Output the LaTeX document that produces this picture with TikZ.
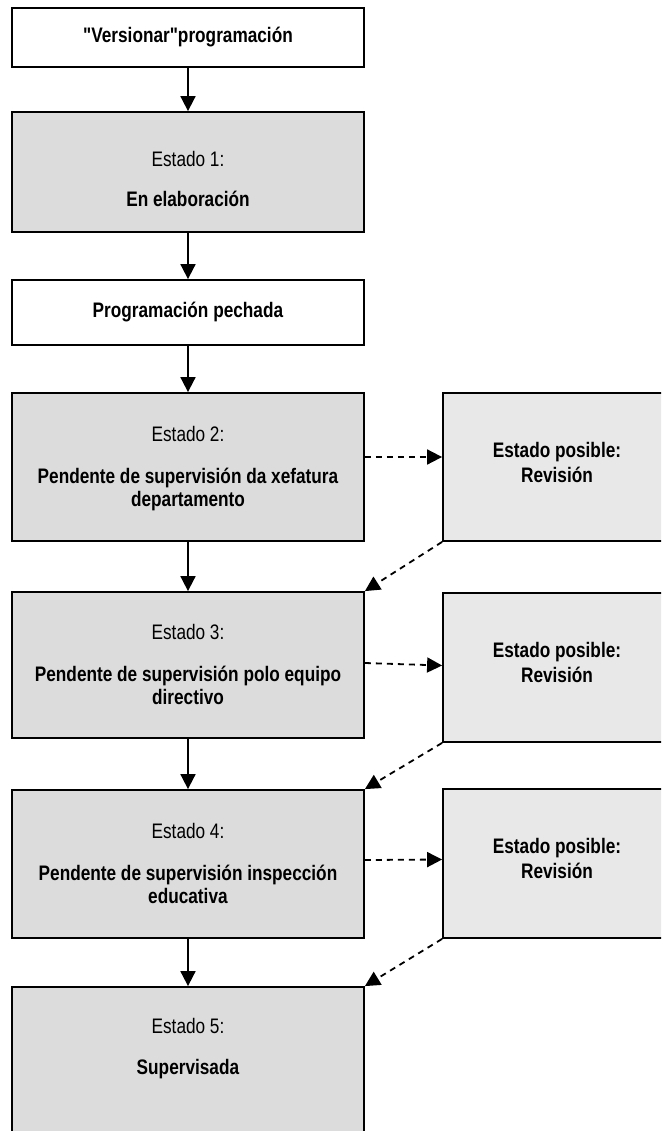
\documentclass[tikz,border=0pt]{standalone}
\usepackage{fontspec}
\setmainfont[FakeStretch=0.82, Ligatures=TeXOff]{Liberation Sans}
\usetikzlibrary{positioning, arrows.meta}

\definecolor{grisestado}{RGB}{220,220,220}
\definecolor{grisposible}{RGB}{232,232,232}
\newcommand{\caixa}[3][340pt]{\parbox[c][#2][t]{#1}{\centering #3}}

\begin{document}
\begin{tikzpicture}[x=1pt, y=-1pt, font=\fontsize{21}{23}\selectfont,
	caixabranca/.style={draw, line width=1.8pt, fill=white, minimum width=352pt, inner sep=0pt},
	estado/.style={caixabranca, fill=grisestado},
	posible/.style={draw, line width=1.8pt, fill=grisposible, minimum width=228pt, inner sep=0pt},
	frecha/.style={line width=1.8pt, -{Triangle[length=15pt,width=15pt]}},
	opcional/.style={frecha, dash pattern=on 6pt off 5pt}]
			\clip (0,0) rectangle (661,1131);
			\node (versionar) [caixabranca, minimum height=59pt] at (188,37.5) {\textbf{"Versionar"programación}};
			\node (estado1) [estado] at (188,172) {\caixa{120pt}{\rule{0pt}{55pt}Estado 1:\\[17pt]\textbf{En elaboración}}};
			\node (pechada) [caixabranca, minimum height=65pt] at (188,312.5) {\textbf{Programación pechada}};
			\node (estado2) [estado] at (188,467) {\caixa{148pt}{\rule{0pt}{48pt}Estado 2:\\[19pt]\textbf{Pendente de supervisión da xefatura}\\\textbf{departamento}}};
			\node (estado3) [estado] at (188,665) {\caixa{146pt}{\rule{0pt}{47pt}Estado 3:\\[19pt]\textbf{Pendente de supervisión polo equipo}\\\textbf{directivo}}};
			\node (estado4) [estado] at (188,864) {\caixa{148pt}{\rule{0pt}{48pt}Estado 4:\\[19pt]\textbf{Pendente de supervisión inspección}\\\textbf{educativa}}};
			\node (estado5) [estado] at (188,1067) {\caixa{160pt}{\rule{0pt}{46pt}Estado 5:\\[18pt]\textbf{Supervisada}}};
			
			\node (revision1) [posible] at (557,467) {\caixa[220pt]{148pt}{\rule{0pt}{64pt}\textbf{Estado posible:}\\[2pt]\textbf{Revisión}}};
			\node (revision2) [posible] at (557,667.5) {\caixa[220pt]{149pt}{\rule{0pt}{64pt}\textbf{Estado posible:}\\[2pt]\textbf{Revisión}}};
			\node (revision3) [posible] at (557,863.5) {\caixa[220pt]{149pt}{\rule{0pt}{64pt}\textbf{Estado posible:}\\[2pt]\textbf{Revisión}}};
			
			\draw [frecha] (versionar) -- (estado1);
			\draw [frecha] (estado1) -- (pechada);
			\draw [frecha] (pechada) -- (estado2);
			\draw [frecha] (estado2) -- (estado3);
			\draw [frecha] (estado3) -- (estado4);
			\draw [frecha] (estado4) -- (estado5);
			
			\draw [opcional] ([yshift=10pt]estado2.east) -- ([yshift=10pt]revision1.west);
			\draw [opcional] (revision1.south west) -- (estado3.north east);
			\draw [opcional] ([yshift=2pt]estado3.east) -- ([yshift=2pt]revision2.west);
			\draw [opcional] (revision2.south west) -- (estado4.north east);
			\draw [opcional] ([yshift=4pt]estado4.east) -- ([yshift=4pt]revision3.west);
			\draw [opcional] (revision3.south west) -- (estado5.north east);
		\end{tikzpicture}
\end{document}
